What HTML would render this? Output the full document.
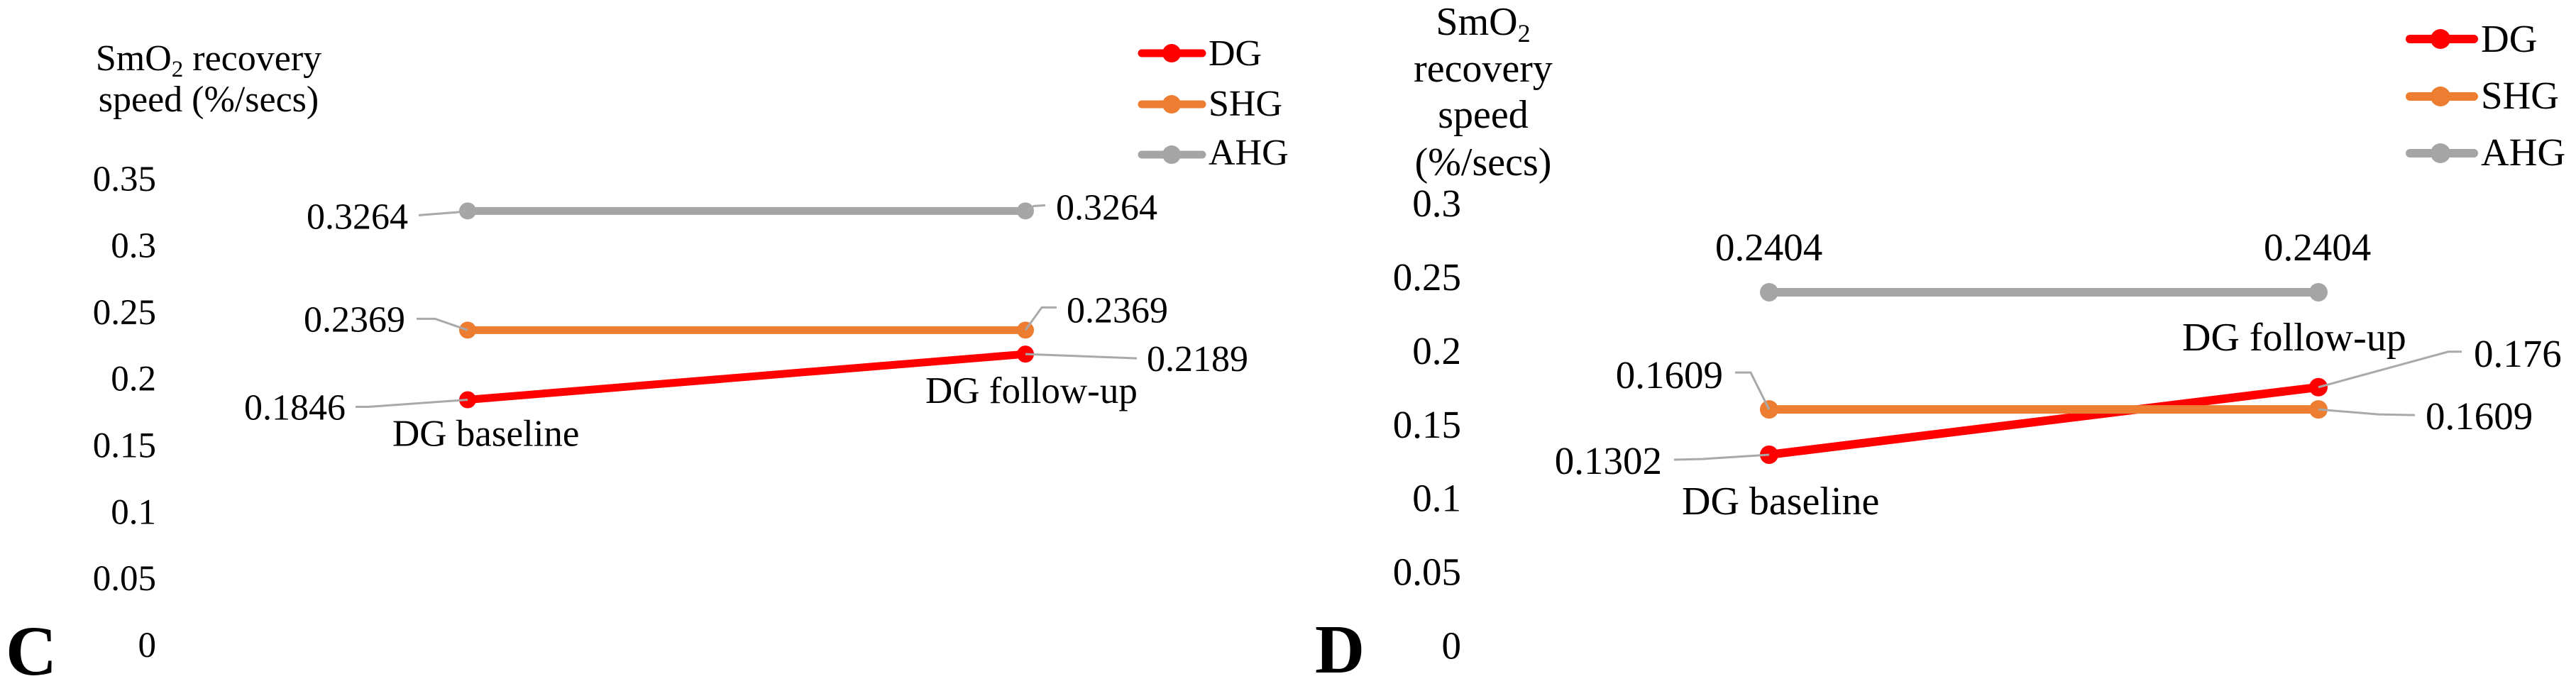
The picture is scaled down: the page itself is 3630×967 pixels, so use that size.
<!DOCTYPE html>
<html lang="en">
<head>
<meta charset="utf-8">
<title>SmO2 recovery speed charts</title>
<style>
html,body{margin:0;padding:0;background:#fff;width:3630px;height:967px;overflow:hidden}
svg{display:block}
text{font-family:"Liberation Serif","Times New Roman",serif;fill:#000}
</style>
</head>
<body>
<svg id="figure" xmlns="http://www.w3.org/2000/svg" width="3630" height="967" viewBox="0 0 3630 967">
  <rect width="3630" height="967" fill="#ffffff"/>

  <g id="panel-c">
    <text x="8" y="951" font-size="100" font-weight="bold">C</text>
    <text x="294" y="99" font-size="52" text-anchor="middle">SmO<tspan font-size="33" dy="9">2</tspan><tspan dy="-9"> recovery</tspan></text>
    <text x="294" y="157" font-size="52" text-anchor="middle">speed (%/secs)</text>
    <g>
      <g>
        <line x1="1609" y1="75" x2="1694" y2="75" stroke="#ff0000" stroke-width="11" stroke-linecap="round"/>
        <circle cx="1651" cy="75" r="13" fill="#ff0000"/>
        <text x="1703" y="92" font-size="52">DG</text>
      </g>
      <g>
        <line x1="1609" y1="147" x2="1694" y2="147" stroke="#ed7d31" stroke-width="11" stroke-linecap="round"/>
        <circle cx="1651" cy="147" r="13" fill="#ed7d31"/>
        <text x="1703" y="163" font-size="52">SHG</text>
      </g>
      <g>
        <line x1="1609" y1="218" x2="1694" y2="218" stroke="#a5a5a5" stroke-width="11" stroke-linecap="round"/>
        <circle cx="1651" cy="218" r="13" fill="#a5a5a5"/>
        <text x="1703" y="232" font-size="52">AHG</text>
      </g>
    </g>
  </g>

  <g id="panel-d">
    <text x="1853" y="948" font-size="97" font-weight="bold">D</text>
    <text x="2090" y="49" font-size="56" text-anchor="middle">SmO<tspan font-size="36" dy="10">2</tspan></text>
    <text x="2090" y="115" font-size="56" text-anchor="middle">recovery</text>
    <text x="2090" y="180" font-size="56" text-anchor="middle">speed</text>
    <text x="2090" y="247" font-size="56" text-anchor="middle">(%/secs)</text>
    <g>
      <g>
        <line x1="3396" y1="55" x2="3486" y2="55" stroke="#ff0000" stroke-width="12" stroke-linecap="round"/>
        <circle cx="3439" cy="55" r="14" fill="#ff0000"/>
        <text x="3496" y="73" font-size="55">DG</text>
      </g>
      <g>
        <line x1="3396" y1="136" x2="3486" y2="136" stroke="#ed7d31" stroke-width="12" stroke-linecap="round"/>
        <circle cx="3439" cy="136" r="14" fill="#ed7d31"/>
        <text x="3496" y="153" font-size="55">SHG</text>
      </g>
      <g>
        <line x1="3396" y1="216" x2="3486" y2="216" stroke="#a5a5a5" stroke-width="12" stroke-linecap="round"/>
        <circle cx="3439" cy="216" r="14" fill="#a5a5a5"/>
        <text x="3496" y="233" font-size="55">AHG</text>
      </g>
    </g>
  </g>
</svg>

<script>
// Panel C data
const ticksC = [0, 0.05, 0.1, 0.15, 0.2, 0.25, 0.3, 0.35];
const tickLabelsC = ["0", "0.05", "0.1", "0.15", "0.2", "0.25", "0.3", "0.35"];
const dgC = [0.1846, 0.2189];
const shgC = [0.2369, 0.2369];
const ahgC = [0.3264, 0.3264];

// Panel D data
const ticksD = [0, 0.05, 0.1, 0.15, 0.2, 0.25, 0.3];
const tickLabelsD = ["0", "0.05", "0.1", "0.15", "0.2", "0.25", "0.3"];
const dgD = [0.1302, 0.176];
const shgD = [0.1609, 0.1609];
const ahgD = [0.2404, 0.2404];

// Shared categories and series labels
const dgPointNames = ["DG baseline", "DG follow-up"];
const RED = "#ff0000", ORANGE = "#ed7d31", GREY = "#a5a5a5", LEADER = "#a9a9a9";
const NS = "http://www.w3.org/2000/svg";

// Axis functions
function xC(i) { return 659 + i * 786; }
function yC(v) { return 910 - v * 1877; }
function xD(i) { return 2493 + i * 774; }
function yD(v) { return 911.5 - v * 2078; }

function drawTicks(parent, panel, ticks, labels, yFn, rightX, size, baseOffset) {
  ticks.forEach(function (t, i) {
    const el = document.createElementNS(NS, "text");
    
    
    el.setAttribute("x", rightX);
    el.setAttribute("y", yFn(t) + baseOffset);
    el.setAttribute("font-size", size);
    el.setAttribute("text-anchor", "end");
    el.textContent = labels[i];
    parent.appendChild(el);
  });
}

function drawSeries(parent, panel, seriesName, values, color, xFn, yFn, width, radius) {
  const line = document.createElementNS(NS, "polyline");
  
  
  line.setAttribute("points", values.map(function (v, i) { return xFn(i) + "," + yFn(v); }).join(" "));
  line.setAttribute("fill", "none");
  line.setAttribute("stroke", color);
  line.setAttribute("stroke-width", width);
  parent.appendChild(line);
  values.forEach(function (v, i) {
    const dot = document.createElementNS(NS, "circle");
    
    
    dot.setAttribute("cx", xFn(i));
    dot.setAttribute("cy", yFn(v));
    dot.setAttribute("r", radius);
    dot.setAttribute("fill", color);
    parent.appendChild(dot);
  });
}

// Label placed at an offset from its data point, with an optional leader line
function drawValueLabel(parent, name, value, px, py, dx, dy, anchor, size, leader) {
  if (leader) {
    const path = document.createElementNS(NS, "polyline");
    
    
    path.setAttribute("points", leader.map(function (o) { return (px + o[0]) + "," + (py + o[1]); }).join(" "));
    path.setAttribute("fill", "none");
    path.setAttribute("stroke", LEADER);
    path.setAttribute("stroke-width", 3);
    parent.appendChild(path);
  }
  const t = document.createElementNS(NS, "text");
  
  
  t.setAttribute("x", px + dx);
  t.setAttribute("y", py + dy);
  t.setAttribute("font-size", size);
  t.setAttribute("text-anchor", anchor);
  t.textContent = String(value);
  parent.appendChild(t);
}

function drawPointName(parent, name, text, px, py, dx, dy, size) {
  const t = document.createElementNS(NS, "text");
  
  
  t.setAttribute("x", px + dx);
  t.setAttribute("y", py + dy);
  t.setAttribute("font-size", size);
  t.textContent = text;
  parent.appendChild(t);
}

// Panel C
const panelC = document.getElementById("panel-c");
drawTicks(panelC, "c", ticksC, tickLabelsC, yC, 220, 51, 16);
drawSeries(panelC, "c", "ahg", ahgC, GREY, xC, yC, 11, 12);
drawSeries(panelC, "c", "shg", shgC, ORANGE, xC, yC, 11, 12);
drawSeries(panelC, "c", "dg", dgC, RED, xC, yC, 11, 12);
drawValueLabel(panelC, "ahg-baseline-c", ahgC[0], xC(0), yC(ahgC[0]), -84, 25, "end", 52, [[0, 0], [-17, 2], [-69, 6]]);
drawValueLabel(panelC, "ahg-followup-c", ahgC[1], xC(1), yC(ahgC[1]), 43, 12, "start", 52, [[0, 0], [12, -7], [28, -8]]);
drawValueLabel(panelC, "shg-baseline-c", shgC[0], xC(0), yC(shgC[0]), -88, 2, "end", 52, [[0, 0], [-46, -16], [-72, -16]]);
drawValueLabel(panelC, "shg-followup-c", shgC[1], xC(1), yC(shgC[1]), 58, -11, "start", 52, [[0, 0], [23, -32], [44, -32]]);
drawValueLabel(panelC, "dg-baseline-c", dgC[0], xC(0), yC(dgC[0]), -172, 28, "end", 52, [[0, 0], [-140, 10], [-158, 10]]);
drawValueLabel(panelC, "dg-followup-c", dgC[1], xC(1), yC(dgC[1]), 171, 24, "start", 52, [[0, 0], [157, 6]]);
drawPointName(panelC, "dg-baseline-c", dgPointNames[0], xC(0), yC(dgC[0]), -106, 65, 53);
drawPointName(panelC, "dg-followup-c", dgPointNames[1], xC(1), yC(dgC[1]), -141, 69, 53);

// Panel D
const panelD = document.getElementById("panel-d");
drawTicks(panelD, "d", ticksD, tickLabelsD, yD, 2059, 55, 17);
drawSeries(panelD, "d", "ahg", ahgD, GREY, xD, yD, 12, 13);
drawSeries(panelD, "d", "dg", dgD, RED, xD, yD, 12, 13);
drawSeries(panelD, "d", "shg", shgD, ORANGE, xD, yD, 12, 13);
drawValueLabel(panelD, "ahg-baseline-d", ahgD[0], xD(0), yD(ahgD[0]), -76, -45, "start", 55, null);
drawValueLabel(panelD, "ahg-followup-d", ahgD[1], xD(1), yD(ahgD[1]), -77, -45, "start", 55, null);
drawValueLabel(panelD, "shg-baseline-d", shgD[0], xD(0), yD(shgD[0]), -65, -30, "end", 55, [[0, 0], [-26, -52], [-48, -52]]);
drawValueLabel(panelD, "shg-followup-d", shgD[1], xD(1), yD(shgD[1]), 151, 28, "start", 55, [[0, 0], [85, 7], [136, 8]]);
drawValueLabel(panelD, "dg-baseline-d", dgD[0], xD(0), yD(dgD[0]), -151, 27, "end", 55, [[0, 0], [-93, 6], [-134, 7]]);
drawValueLabel(panelD, "dg-followup-d", dgD[1], xD(1), yD(dgD[1]), 219, -29, "start", 55, [[0, 0], [183, -50], [202, -50]]);
drawPointName(panelD, "dg-baseline-d", dgPointNames[0], xD(0), yD(dgD[0]), -123, 84, 56);
drawPointName(panelD, "dg-followup-d", dgPointNames[1], xD(1), yD(dgD[1]), -192, -52, 56);
</script>
</body>
</html>
